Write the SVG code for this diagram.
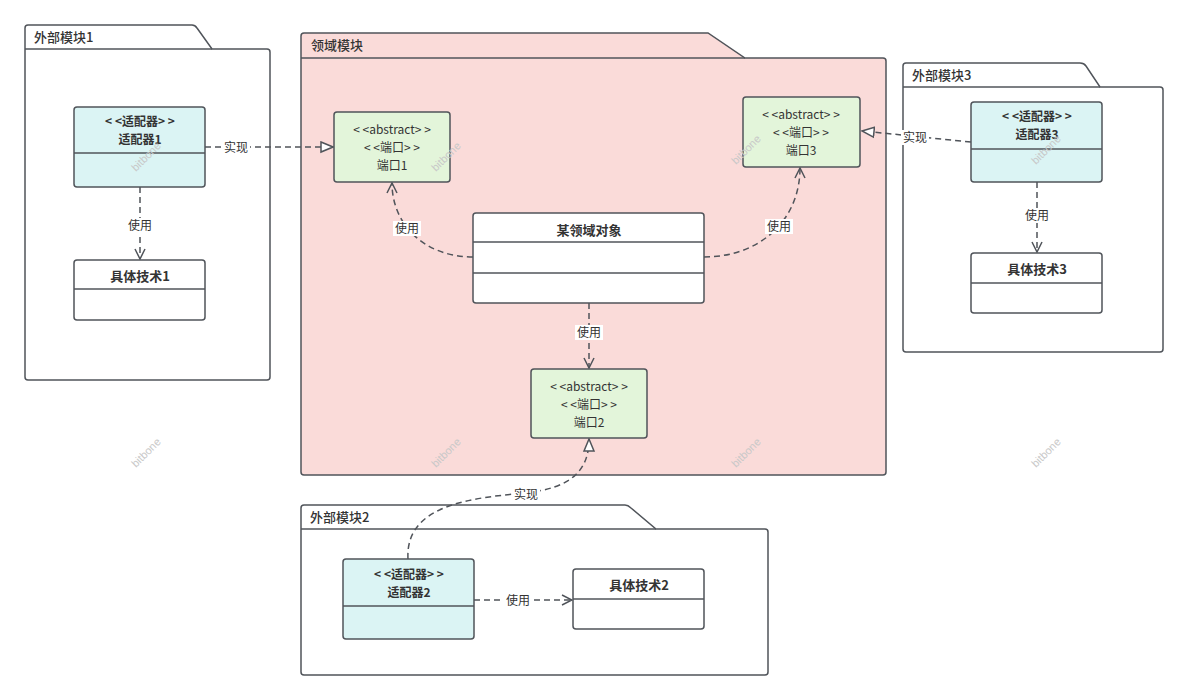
<svg xmlns="http://www.w3.org/2000/svg" width="1188" height="700" viewBox="0 0 1188 700">
<defs>
<style>
text{font-family:"Noto Sans CJK SC","Liberation Sans",sans-serif;fill:#333;font-size:12px}
.pk{fill:#fff;stroke:#50545a;stroke-width:1.5}
.dom{fill:#fadbd9;stroke:#50545a;stroke-width:1.5}
.box{stroke:#50545a;stroke-width:1.5}
.ad{fill:#dbf4f4}
.pt{fill:#e3f5da}
.wh{fill:#fff}
.ln{stroke:#50545a;stroke-width:1.5;fill:none}
.cn{stroke:#50545a;stroke-width:1.5;fill:none;stroke-dasharray:6 4}
.b{font-weight:bold;font-size:13px}
.s{font-size:12px}
.t{font-size:13px;font-weight:500}
.p{font-size:12px}
.c{text-anchor:middle}
.lbg{fill:#fff}
.wm{fill:#c8c8c8;font-size:11px;font-family:"Liberation Sans",sans-serif}
</style>
<marker id="open" viewBox="0 0 12 12" refX="11" refY="6" markerWidth="12" markerHeight="12" markerUnits="userSpaceOnUse" orient="auto">
<path d="M1,1 L11,6 L1,11" fill="none" stroke="#50545a" stroke-width="1.5"/>
</marker>
<marker id="tri" viewBox="0 0 14 14" refX="13" refY="7" markerWidth="14" markerHeight="14" markerUnits="userSpaceOnUse" orient="auto">
<path d="M1,2 L13,7 L1,12 Z" fill="#fff" stroke="#50545a" stroke-width="1.5"/>
</marker>
</defs>
<rect width="1188" height="700" fill="#fff"/>

<g id="pkg1">
<path class="pk" d="M25,49 L25,28 Q25,25 28,25 L192,25 Q195,25 197,28 L212,49 L267,49 Q270,49 270,52 L270,377 Q270,380 267,380 L28,380 Q25,380 25,377 Z"/>
<line class="ln" x1="25" y1="49" x2="212" y2="49"/>
<text class="t" x="34" y="42">外部模块1</text>
</g>

<g id="domain">
<path class="dom" d="M301,58 L301,36 Q301,33 304,33 L708,33 L745,58 L883,58 Q886,58 886,61 L886,472 Q886,475 883,475 L304,475 Q301,475 301,472 Z"/>
<line class="ln" x1="301" y1="58" x2="745" y2="58"/>
<text class="t" x="311" y="50">领域模块</text>
</g>

<g id="pkg3">
<path class="pk" d="M903,87 L903,66 Q903,63 906,63 L1080,63 Q1084,63 1086,66 L1100,87 L1160,87 Q1163,87 1163,90 L1163,349 Q1163,352 1160,352 L906,352 Q903,352 903,349 Z"/>
<line class="ln" x1="903" y1="87" x2="1100" y2="87"/>
<text class="t" x="912" y="80">外部模块3</text>
</g>

<g id="pkg2">
<path class="pk" d="M301,529 L301,508 Q301,505 304,505 L625,505 Q628,505 631,508 L656,529 L765,529 Q768,529 768,532 L768,672 Q768,675 765,675 L304,675 Q301,675 301,672 Z"/>
<line class="ln" x1="301" y1="529" x2="656" y2="529"/>
<text class="t" x="310" y="522">外部模块2</text>
</g>

<g id="adapter1">
<rect class="box ad" x="74" y="107" width="131" height="80" rx="3"/>
<line class="ln" x1="74" y1="153" x2="205" y2="153"/>
<text class="c b s" x="140" y="126">&lt; &lt;适配器&gt; &gt;</text>
<text class="c b s" x="140" y="144">适配器1</text>
</g>

<g id="tech1">
<rect class="box wh" x="74" y="260" width="131" height="60" rx="3"/>
<line class="ln" x1="74" y1="289" x2="205" y2="289"/>
<text class="c b" x="140" y="281">具体技术1</text>
</g>

<g id="port1">
<rect class="box pt" x="334" y="112" width="116" height="70" rx="3"/>
<text class="c p" x="392" y="134">&lt; &lt;abstract&gt; &gt;</text>
<text class="c p" x="392" y="152">&lt; &lt;端口&gt; &gt;</text>
<text class="c p" x="392" y="170">端口1</text>
</g>

<g id="port3">
<rect class="box pt" x="743" y="97" width="117" height="70" rx="3"/>
<text class="c p" x="801" y="119">&lt; &lt;abstract&gt; &gt;</text>
<text class="c p" x="801" y="137">&lt; &lt;端口&gt; &gt;</text>
<text class="c p" x="801" y="155">端口3</text>
</g>

<g id="domainObject">
<rect class="box wh" x="473" y="213" width="231" height="90" rx="3"/>
<line class="ln" x1="473" y1="242" x2="704" y2="242"/>
<line class="ln" x1="473" y1="273" x2="704" y2="273"/>
<text class="c b" x="589" y="235">某领域对象</text>
</g>

<g id="port2">
<rect class="box pt" x="531" y="369" width="116" height="69" rx="3"/>
<text class="c p" x="589" y="391">&lt; &lt;abstract&gt; &gt;</text>
<text class="c p" x="589" y="409">&lt; &lt;端口&gt; &gt;</text>
<text class="c p" x="589" y="427">端口2</text>
</g>

<g id="adapter3">
<rect class="box ad" x="971" y="102" width="131" height="80" rx="3"/>
<line class="ln" x1="971" y1="149" x2="1102" y2="149"/>
<text class="c b s" x="1037" y="121">&lt; &lt;适配器&gt; &gt;</text>
<text class="c b s" x="1037" y="139">适配器3</text>
</g>

<g id="tech3">
<rect class="box wh" x="971" y="253" width="131" height="60" rx="3"/>
<line class="ln" x1="971" y1="283" x2="1102" y2="283"/>
<text class="c b" x="1037" y="274">具体技术3</text>
</g>

<g id="adapter2">
<rect class="box ad" x="343" y="559" width="131" height="80" rx="3"/>
<line class="ln" x1="343" y1="606" x2="474" y2="606"/>
<text class="c b s" x="409" y="579">&lt; &lt;适配器&gt; &gt;</text>
<text class="c b s" x="409" y="597">适配器2</text>
</g>

<g id="tech2">
<rect class="box wh" x="573" y="569" width="131" height="60" rx="3"/>
<line class="ln" x1="573" y1="599" x2="704" y2="599"/>
<text class="c b" x="639" y="590">具体技术2</text>
</g>

<g id="connectors">
<path class="cn" d="M205,147 L333,147" marker-end="url(#tri)"/>
<rect class="lbg" x="222" y="140" width="28" height="15"/>
<text class="c" x="236" y="152">实现</text>

<path class="cn" d="M140,187 L140,259" marker-end="url(#open)"/>
<rect class="lbg" x="126" y="218" width="28" height="15"/>
<text class="c" x="140" y="230">使用</text>

<path class="cn" d="M473,257 C425,257 392,225 392,183" marker-end="url(#open)"/>
<rect class="lbg" x="393" y="221" width="28" height="15"/>
<text class="c" x="407" y="233">使用</text>

<path class="cn" d="M704,257 C760,257 800,220 800,168" marker-end="url(#open)"/>
<rect class="lbg" x="765" y="219" width="28" height="15"/>
<text class="c" x="779" y="231">使用</text>

<path class="cn" d="M589,303 L589,368" marker-end="url(#open)"/>
<rect class="lbg" x="575" y="325" width="28" height="15"/>
<text class="c" x="589" y="337">使用</text>

<path class="cn" d="M971,142 L862,131" marker-end="url(#tri)"/>
<rect class="lbg" x="901" y="130" width="28" height="15"/>
<text class="c" x="915" y="142">实现</text>

<path class="cn" d="M1037,182 L1037,252" marker-end="url(#open)"/>
<rect class="lbg" x="1023" y="208" width="28" height="15"/>
<text class="c" x="1037" y="220">使用</text>

<path class="cn" d="M408,559 C405,505 470,498 525,493 C572,488 589,470 589,439" marker-end="url(#tri)"/>
<rect class="lbg" x="512" y="487" width="28" height="15"/>
<text class="c" x="526" y="499">实现</text>

<path class="cn" d="M474,600 L572,600" marker-end="url(#open)"/>
<rect class="lbg" x="504" y="593" width="28" height="15"/>
<text class="c" x="518" y="605">使用</text>
</g>

<g id="watermarks">
<text class="wm" transform="translate(136,172) rotate(-45)">bitbone</text>
<text class="wm" transform="translate(436,172) rotate(-45)">bitbone</text>
<text class="wm" transform="translate(736,165) rotate(-45)">bitbone</text>
<text class="wm" transform="translate(1036,165) rotate(-45)">bitbone</text>
<text class="wm" transform="translate(136,468) rotate(-45)">bitbone</text>
<text class="wm" transform="translate(436,468) rotate(-45)">bitbone</text>
<text class="wm" transform="translate(736,468) rotate(-45)">bitbone</text>
<text class="wm" transform="translate(1036,468) rotate(-45)">bitbone</text>
</g>
</svg>
